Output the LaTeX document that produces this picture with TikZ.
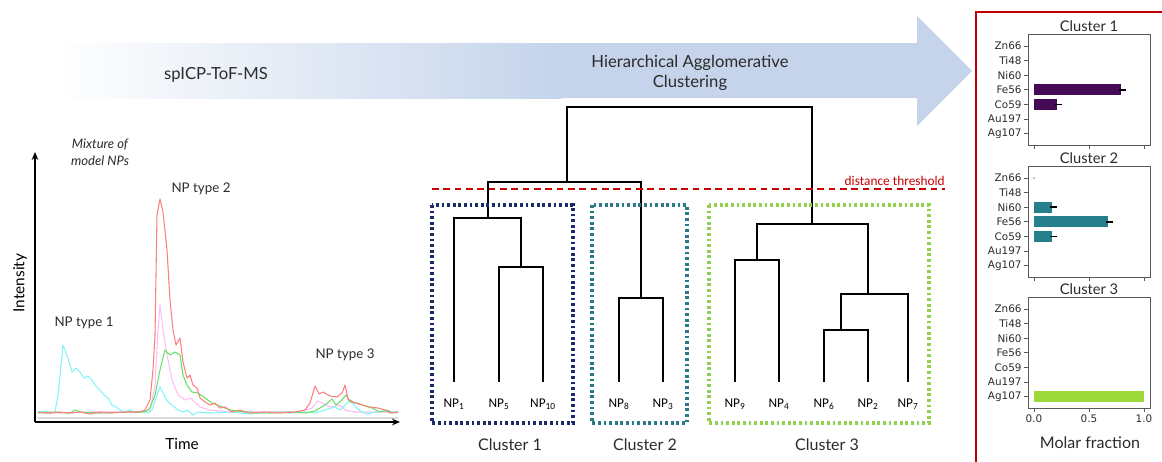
\documentclass[tikz,border=0pt]{standalone}
\usepackage{fontspec}
\setmainfont{Lato}
\newfontfamily\dvs{DejaVu Sans}
\newfontfamily\crl{Carlito}
\usetikzlibrary{arrows.meta}
\definecolor{arrowblue}{HTML}{C5D4EB}
\definecolor{cnavy}{HTML}{1B2A6B}
\definecolor{cteal}{HTML}{2A7A88}
\definecolor{clime}{HTML}{92D150}
\definecolor{bpurple}{HTML}{450A55}
\definecolor{bteal}{HTML}{25808C}
\definecolor{blime}{HTML}{9ED93C}
\definecolor{tcyan}{HTML}{7FF5F5}
\definecolor{tred}{HTML}{FF7F7F}
\definecolor{tgreen}{HTML}{66E066}
\definecolor{tpink}{HTML}{FFBDF2}
\definecolor{txt}{HTML}{2B2B2B}
\definecolor{redframe}{HTML}{C00000}
\tikzset{
  lbl/.style={font=\fontsize{10}{12}\selectfont, text=txt, inner sep=0pt},
  big/.style={font=\fontsize{12.5}{15}\selectfont, text=txt, inner sep=0pt},
  clab/.style={font=\fontsize{12}{14}\selectfont, text=txt, inner sep=0pt},
  ticklab/.style={font=\dvs\fontsize{7.8}{9}\selectfont, text=txt, inner sep=1.5pt},
  pttitle/.style={font=\fontsize{11}{13}\selectfont, text=txt, inner sep=0pt},
  frame/.style={draw=black!65, line width=0.7pt},
  trace/.style={line width=0.8pt, line join=round},
  dend/.style={line width=1.6pt, line cap=rect},
  clusterbox/.style={line width=2.3pt, dash pattern=on 2.1pt off 2.1pt},
  nplab/.style={font=\crl\fontsize{10}{12}\selectfont, inner sep=0pt},
}
\newcommand\barpane[3]{% top, title, name
  \node[pttitle] (title#3) at (1089,{#1-8}) {#2};
  \draw[frame] (1028,#1) rectangle (1150,{#1+111});
  \foreach \lab [count=\i from 0] in {Zn66,Ti48,Ni60,Fe56,Co59,Au197,Ag107} {
    \draw[frame] (1028,{#1+12+\i*14.6}) -- ++(-4,0) node[left, ticklab] (lab#3\i) {\lab};
  }
  \foreach \xx in {1034,1089,1144} \draw[frame] (\xx,{#1+111}) -- ++(0,4);
}
\newcommand\molbar[5]{% top, index, value, color, errorbar?
  \fill[#4] (1034,{#1+12+#2*14.6-5.5}) rectangle ({1034+#3*110},{#1+12+#2*14.6+5.5});
  \ifnum#5=1 \draw[line width=1.2pt] ({1034+#3*110-2},{#1+12+#2*14.6}) -- ++(7,0);\fi
}
\begin{document}
\begin{tikzpicture}[x=0.75pt,y=-0.75pt]
\useasboundingbox (0,0) rectangle (1162,461);
% ---------------- big arrow
\fill[arrowblue] (560,43) -- (917,43) -- (917,16) -- (972,71) -- (917,126) -- (917,98) -- (560,98) -- cycle;
\shade[left color=white, right color=arrowblue] (55,43) rectangle (561,98);
\node[big] (sp) at (216,75) {spICP-ToF-MS};
\node[big, align=center] (hac) at (690,73) {Hierarchical Agglomerative\\[-0.5pt]Clustering};
% ---------------- time series
\draw[black!15, line width=0.8pt] (38,418) -- (398,418);
\draw[trace, tpink] plot coordinates {(38,412)(60,413)(90,412)(140,412)(150,410)(155,385)(158,330)(160,305)(163,330)(167,355)(172,380)(178,395)(185,400)(190,398)(195,402)(200,407)(210,410)(230,412)(300,412)(312,408)(318,401)(324,404)(330,407)(340,405)(345,410)(355,412)(398,412)};
\draw[trace, tcyan] plot coordinates {(38,412)(45,411)(50,413)(55,412)(58,395)(63,345)(68,358)(72,372)(76,368)(80,372)(84,378)(88,376)(92,380)(96,386)(100,390)(104,395)(108,398)(112,405)(116,407)(120,410)(125,412)(130,410)(135,413)(140,412)(145,411)(148,413)(152,410)(156,398)(160,387)(164,395)(168,402)(172,405)(178,410)(183,412)(188,410)(193,415)(198,412)(210,413)(230,412)(250,414)(262,413)(275,412)(290,413)(305,412)(315,413)(325,410)(335,407)(340,410)(345,405)(350,400)(355,406)(360,411)(367,414)(375,412)(385,411)(398,413)};
\draw[trace, tgreen] plot coordinates {(38,413)(50,412)(70,413)(75,410)(80,412)(100,413)(130,412)(145,412)(150,408)(155,395)(160,370)(165,350)(170,355)(175,352)(180,355)(183,375)(187,385)(192,392)(198,393)(205,398)(212,403)(220,406)(230,410)(245,412)(270,413)(290,412)(305,413)(315,411)(325,405)(332,399)(336,405)(342,400)(346,395)(350,402)(357,403)(365,406)(372,408)(380,412)(387,410)(393,413)(398,412)};
\draw[trace, tred] plot coordinates {(38,412)(45,413)(52,413)(58,412)(70,413)(80,412)(90,414)(100,412)(110,413)(125,412)(140,412)(145,410)(150,400)(153,370)(155,335)(157,215)(160,199)(163,212)(167,250)(170,300)(173,330)(176,345)(180,338)(183,362)(187,378)(190,375)(193,385)(197,388)(200,398)(205,402)(210,405)(215,403)(220,408)(225,407)(232,412)(240,410)(250,413)(265,412)(280,413)(295,412)(305,410)(310,403)(315,386)(319,394)(323,392)(330,396)(337,397)(342,393)(345,385)(348,399)(355,403)(362,405)(370,407)(378,408)(385,410)(390,413)(398,412)};
\coordinate (orig) at (35,422);
\coordinate (yend) at (35,152);
\coordinate (xend) at (400,422);
\draw[line width=1pt, -{Stealth[length=6pt,width=5pt]}] (orig) -- (yend);
\draw[line width=1pt, -{Stealth[length=6pt,width=5pt]}] (orig) -- (xend);
\node[lbl, font=\fontsize{11.5}{13}\selectfont, text=black, rotate=90] (inty) at (20,283) {Intensity};
\node[lbl, font=\fontsize{11.5}{13}\selectfont, text=black] (time) at (182,444) {Time};
\node[lbl, font=\itshape\fontsize{9.8}{12.5}\selectfont, align=center] (mix) at (100,152) {Mixture of\\model NPs};
\node[lbl] (t1) at (84,323) {NP type 1};
\node[lbl] (t2) at (201,189) {NP type 2};
\node[lbl] (t3) at (345,355) {NP type 3};
% ---------------- dendrogram
\foreach \n/\x in {1/454,5/499,10/543,8/619,3/663,9/735,4/779,6/824,2/868,7/908} {
  \coordinate (l\n) at (\x,381);
  \node[nplab] (NP\n) at (\x,404) {NP\textsubscript{\n}};
}
\coordinate (a) at (521,267);
\coordinate (b) at (488,218);
\coordinate (c) at (641,298);
\coordinate (d) at (567,182);
\coordinate (e) at (757,260);
\coordinate (f) at (841,330);
\coordinate (g) at (868,294);
\coordinate (h) at (812,224);
\coordinate (top) at (690,107);
\draw[dend] (l5) |- (a) -| (l10);
\draw[dend] (l1) |- (b) -| (a);
\draw[dend] (l8) |- (c) -| (l3);
\draw[dend] (b) |- (d) -| (c);
\draw[dend] (l9) |- (e) -| (l4);
\draw[dend] (l6) |- (f) -| (l2);
\draw[dend] (f) |- (g) -| (l7);
\draw[dend] (e) |- (h) -| (g);
\draw[dend] (d) |- (top) -| (h);
\coordinate (thrL) at (432,189);
\coordinate (thrR) at (945,189);
\draw[redframe!85!red, line width=0.9pt, dash pattern=on 5pt off 3.5pt] (thrL) -- (thrR);
\node[nplab, text=redframe!85!red, anchor=base east] (thr) at (945,185) {distance threshold};
\draw[clusterbox, cnavy] (432,205) rectangle (573,423);
\draw[clusterbox, cteal] (592,205) rectangle (687,423);
\draw[clusterbox, clime] (709,205) rectangle (929,423);
\node[clab] (c1) at (510,445) {Cluster 1};
\node[clab] (c2) at (645,445) {Cluster 2};
\node[clab] (c3) at (827,445) {Cluster 3};
% ---------------- bar charts
\draw[redframe, line width=1.2pt] (976,470) -- (976,12) -- (1175,12);
\barpane{34}{Cluster 1}{A}
\molbar{34}{3}{0.79}{bpurple}{1}
\molbar{34}{4}{0.21}{bpurple}{1}
\barpane{166}{Cluster 2}{B}
\fill[black] (1034,178) circle (0.6);
\molbar{166}{2}{0.16}{bteal}{1}
\molbar{166}{3}{0.67}{bteal}{1}
\molbar{166}{4}{0.16}{bteal}{1}
\barpane{297}{Cluster 3}{C}
\molbar{297}{6}{1.0}{blime}{0}
\foreach \v/\xx in {0.0/1034,0.5/1089,1.0/1144} \node[ticklab, anchor=north] (tk\xx) at (\xx,413) {\v};
\node[clab] (mf) at (1090,443) {Molar fraction};
\end{tikzpicture}
\end{document}
